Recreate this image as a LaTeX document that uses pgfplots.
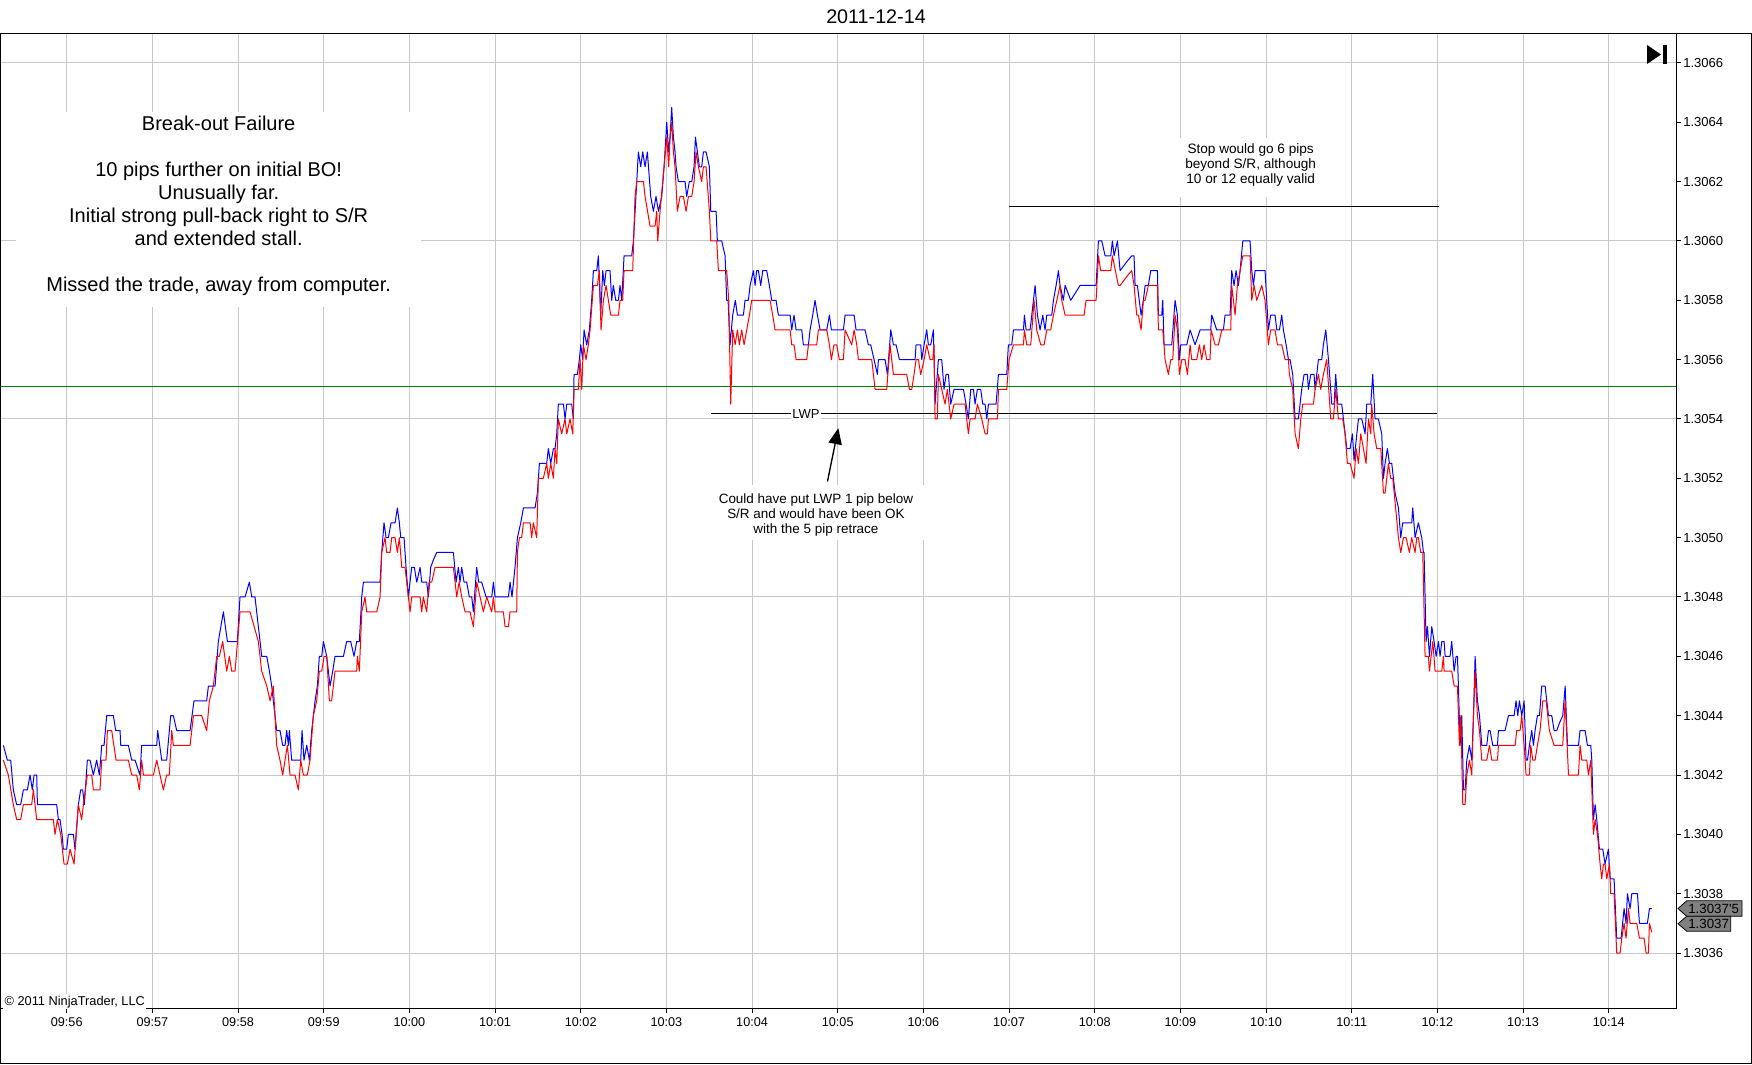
\documentclass[border=0pt]{standalone}
\usepackage{fontspec}
\setmainfont{Liberation Sans}
\usepackage{pgfplots}
\pgfplotsset{compat=1.18}
\usetikzlibrary{arrows.meta}
\definecolor{gridgray}{RGB}{200,200,200}
\definecolor{askblue}{RGB}{0,0,255}
\definecolor{bidred}{RGB}{255,0,0}
\definecolor{srgreen}{RGB}{0,128,0}
\definecolor{taggray}{RGB}{128,128,128}
\begin{document}
\begin{tikzpicture}
\useasboundingbox (0,-42pt) rectangle (1314pt,756pt);
\begin{axis}[
  at={(0,0)}, anchor=south west,
  scale only axis, width=1257pt, height=730.5pt,
  xmin=-0.7786, xmax=18.785, ymin=34.148, ymax=66.975,
  axis line style={line width=0.75pt},
  xtick={0,...,18},
  xticklabels={09:56,09:57,09:58,09:59,10:00,10:01,10:02,10:03,10:04,10:05,10:06,10:07,10:08,10:09,10:10,10:11,10:12,10:13,10:14},
  ytick={36,38,...,66},
  yticklabels={1.3036,1.3038,1.3040,1.3042,1.3044,1.3046,1.3048,1.3050,1.3052,1.3054,1.3056,1.3058,1.3060,1.3062,1.3064,1.3066},
  xtick pos=lower, ytick pos=right, yticklabel pos=right,
  tick align=outside, major tick length=3.75pt,
  tick style={black, line width=0.75pt},
  xmajorgrids=true,
  grid style={color=gridgray, line width=0.75pt},
  extra y ticks={36,42,48,54,60,66}, extra y tick labels={},
  extra y tick style={grid=major, major tick length=0pt},
  xticklabel style={inner sep=0pt, yshift=-3.5pt, font=\fontsize{9.5}{11}\selectfont},
  yticklabel style={inner sep=0pt, anchor=west, xshift=1.5pt, font=\fontsize{9.8}{11}\selectfont},
  /pgf/number format/assume math mode=true,
]
% annotation white boxes and texts
\fill[white] (axis cs:-0.592,57.77) rectangle (axis cs:4.136,64.35);
\node[align=center, font=\fontsize{15}{17.25}\selectfont, inner sep=0pt] at (axis cs:1.774,61.17)
 {Break-out Failure\\[17.25pt]10 pips further on initial BO!\\Unusually far.\\Initial strong pull-back right to S/R\\and extended stall.\\[17.25pt]Missed the trade, away from computer.};
\fill[white] (axis cs:13.0,61.48) rectangle (axis cs:14.607,63.47);
\node[align=center, font=\fontsize{10.2}{11}\selectfont, inner sep=0pt] at (axis cs:13.82,62.56)
 {Stop would go 6 pips\\beyond S/R, although\\10 or 12 equally valid};
\fill[white] (axis cs:7.451,49.92) rectangle (axis cs:10.135,51.775);
\node[align=center, font=\fontsize{10.1}{11.25}\selectfont, inner sep=0pt] at (axis cs:8.746,50.75)
 {Could have put LWP 1 pip below\\S/R and would have been OK\\with the 5 pip retrace};
% horizontal lines
\draw[srgreen, line width=0.75pt] (axis cs:-0.7786,55.08) -- (axis cs:18.785,55.08);
\draw[black, line width=0.75pt] (axis cs:11.0,61.17) -- (axis cs:16.02,61.17);
\draw[black, line width=0.75pt] (axis cs:7.52,54.18) -- (axis cs:16.0,54.18);
\node[fill=white, inner sep=1.2pt, font=\fontsize{9.75}{11}\selectfont] at (axis cs:8.63,54.18) {LWP};
\draw[black, line width=1pt, -{Triangle[length=12pt,width=10pt]}] (axis cs:8.88,51.89) -- (axis cs:9.007,53.69);
% ask (blue)
\addplot[askblue, line width=0.75pt, line join=round, sharp plot] coordinates {
(-0.739,43) (-0.693,42.5) (-0.654,42.5) (-0.623,41.5) (-0.584,41) (-0.537,41) (-0.506,41.5) (-0.459,41.5) (-0.428,42) (-0.401,41.5) (-0.381,42) (-0.350,42) (-0.342,41) (-0.117,41) (-0.097,40.5) (-0.078,40.5) (-0.054,40) (-0.039,39.5) (0,39.5) (0.019,40) (0.078,40) (0.097,39.5) (0.136,41) (0.163,41.5) (0.187,41.5) (0.206,41) (0.241,42.5) (0.272,42.5) (0.311,42) (0.350,42.5) (0.381,42) (0.409,43) (0.436,43) (0.467,44) (0.545,44) (0.572,43.5) (0.623,43.5) (0.630,43) (0.720,43) (0.759,42.5) (0.798,42.5) (0.856,42) (0.875,43) (1.051,43) (1.062,43.5) (1.109,42.5) (1.167,42.5) (1.214,44) (1.245,44) (1.284,43.5) (1.440,43.5) (1.486,44.5) (1.634,44.5) (1.654,45) (1.732,45) (1.770,46.5) (1.829,47.5) (1.852,47) (1.876,46.5) (1.992,46.5) (2.023,48) (2.082,48) (2.132,48.5) (2.160,48) (2.198,48) (2.257,46.5) (2.276,46) (2.335,46) (2.366,45.5) (2.393,45) (2.412,44.5) (2.451,43.5)
(2.490,43.5) (2.521,43) (2.549,43) (2.568,43.5) (2.588,43) (2.599,43.5) (2.626,42.5) (2.732,42.5) (2.747,43.5) (2.770,42.5) (2.802,43) (2.833,42.5) (2.860,43.5) (2.899,44.5) (2.926,45) (2.949,46) (2.977,46) (2.996,46.5) (3.035,46) (3.074,45) (3.105,45.5) (3.132,46) (3.230,46) (3.268,46.5) (3.315,46.5) (3.354,46) (3.385,46.5) (3.416,46.5) (3.444,48) (3.463,48.5) (3.658,48.5) (3.677,49.5) (3.704,50.5) (3.728,50) (3.755,50) (3.786,50.5) (3.833,50.5) (3.860,51) (3.883,50.5) (3.899,50) (3.938,50) (3.961,49) (3.988,48) (4.027,49) (4.058,49) (4.086,48.5) (4.125,49) (4.144,48.5) (4.202,48.5) (4.222,48) (4.249,49) (4.280,49.25) (4.319,49.5) (4.514,49.5) (4.545,48.5) (4.572,49) (4.591,48.5) (4.611,49) (4.638,48.5) (4.669,48.5) (4.700,48) (4.728,48) (4.747,47.5) (4.786,49) (4.809,48.5) (4.844,48.5) (4.895,48) (4.961,48) (4.981,48.5) (5.000,48) (5.156,48) (5.175,48.5) (5.198,48) (5.233,49) (5.261,50) (5.300,50.5) (5.331,51) (5.467,51) (5.494,51.5) (5.518,52.5) (5.603,52.5) (5.622,53) (5.650,52.5) (5.681,53) (5.700,53) (5.720,53.5) (5.739,54.5) (5.798,54.5) (5.817,54) (5.837,54.5) (5.895,54.5) (5.914,54)
(5.922,55.5) (5.961,55.5) (5.984,56) (6.000,56.5) (6.023,56) (6.039,57) (6.070,56.5) (6.101,57) (6.128,58) (6.148,59) (6.187,59) (6.206,59.5) (6.233,57.5) (6.257,59) (6.276,58.5) (6.296,59) (6.342,59) (6.362,58) (6.381,58.5) (6.409,58) (6.440,58) (6.459,58.5) (6.479,58) (6.506,59.5) (6.595,59.5) (6.615,60) (6.654,62) (6.673,63) (6.700,62.5) (6.724,63) (6.751,62.5) (6.778,63) (6.817,61.5) (6.848,61) (6.879,61.5) (6.907,61) (6.946,61.5) (6.973,62.5) (7.004,64) (7.027,63) (7.043,63.5) (7.062,64.5) (7.082,63.5) (7.101,63) (7.113,62.5) (7.140,62) (7.218,62) (7.237,61.5) (7.268,62) (7.296,62) (7.323,62.5) (7.339,63.5) (7.362,63) (7.385,62.5) (7.412,62.5) (7.432,63) (7.463,63) (7.502,62.5) (7.518,61) (7.580,61) (7.595,60) (7.646,60) (7.685,59.5) (7.704,58) (7.720,58) (7.743,56.5) (7.774,57.5) (7.805,58) (7.829,57.5) (7.899,57.5) (7.918,58) (7.957,58) (7.977,58.5) (8.016,59) (8.035,58.5) (8.054,59) (8.074,59) (8.101,58.5) (8.125,59) (8.171,59) (8.202,58.5) (8.230,58) (8.280,58) (8.307,57.5) (8.444,57.5) (8.463,57) (8.490,57.5) (8.514,57) (8.580,57) (8.599,56.5) (8.658,56.5) (8.677,57) (8.708,57.5) (8.735,58) (8.763,57.5) (8.794,57) (8.872,57) (8.903,57.5) (8.926,57) (9.066,57) (9.086,57.5) (9.191,57.5) (9.214,57) (9.319,57) (9.358,56.5)
(9.385,56.5) (9.424,56) (9.463,55.5) (9.475,56) (9.553,56) (9.580,55.5) (9.619,57) (9.650,56.5) (9.681,56.5) (9.720,56) (9.903,56) (9.914,56.5) (9.969,56.5) (9.981,56) (10.008,56.5) (10.039,57) (10.058,56.5) (10.086,56.5) (10.117,57) (10.136,54.5) (10.175,56) (10.214,56) (10.241,55) (10.265,55.5) (10.292,55.5) (10.319,54.5) (10.358,55) (10.467,55) (10.498,54.5) (10.525,54) (10.553,55) (10.584,55) (10.603,54.5) (10.630,55) (10.669,55) (10.693,54.5) (10.720,54.5) (10.740,54) (10.759,54.5) (10.848,54.5) (10.876,55.5) (10.973,55.5) (10.992,56.5) (11.031,56.5) (11.051,57) (11.168,57) (11.179,57.5) (11.199,57) (11.245,57) (11.265,57.5) (11.304,58.5) (11.331,57.5) (11.362,57) (11.393,57.5) (11.420,57) (11.440,57.5) (11.498,57.5) (11.518,58) (11.549,58.5) (11.576,59) (11.595,58.5) (11.634,58) (11.654,58.5) (11.720,58) (11.829,58.5) (12.016,58.5) (12.043,60) (12.082,60) (12.121,59.5) (12.187,59.5) (12.206,60) (12.226,59.5) (12.265,60) (12.296,59) (12.374,59.3) (12.432,59.5) (12.459,59.5) (12.471,58.5) (12.498,58.5) (12.541,57.5) (12.568,58) (12.588,58.5) (12.626,58.5)
(12.654,59) (12.732,59) (12.743,57.5) (12.782,57.5) (12.794,58) (12.809,56.5) (12.899,56.5) (12.938,58) (12.965,57.5) (12.988,56) (13.004,56.5) (13.074,56.5) (13.113,57) (13.171,56.5) (13.230,57) (13.354,57) (13.366,57.5) (13.424,57) (13.502,57) (13.521,57.5) (13.580,57.5) (13.599,59) (13.626,58.5) (13.650,59) (13.677,58.5) (13.697,59) (13.728,60) (13.813,60) (13.833,59) (13.852,58.5) (13.872,59) (13.988,59) (14.027,57) (14.054,57.5) (14.105,57.5) (14.125,57) (14.156,57) (14.183,57.5) (14.202,57) (14.234,56.5) (14.261,56) (14.280,56) (14.311,55.5) (14.339,54) (14.377,54) (14.416,55) (14.444,55.5) (14.482,55.5) (14.494,55) (14.521,55.5) (14.560,55.5) (14.572,55) (14.611,56) (14.650,56) (14.669,56.5) (14.697,57) (14.728,56) (14.767,54.5) (14.794,54.5) (14.813,55.5) (14.837,54.5) (14.883,54.5) (14.903,54) (14.942,53) (14.981,53) (15.008,53.5) (15.027,52.6) (15.078,54) (15.117,54) (15.156,53.5) (15.175,54.5) (15.222,54.5) (15.245,55.5) (15.272,54) (15.311,54) (15.350,53.5) (15.370,52) (15.389,52.5) (15.416,53) (15.440,52.5) (15.467,52.5) (15.506,51.5) (15.545,51) (15.572,50) (15.595,50.5) (15.700,50.5) (15.712,51) (15.739,50) (15.778,50.5) (15.817,50) (15.837,49.5) (15.844,49.5)
(15.868,46.5) (15.884,47) (15.907,46) (15.934,47) (15.961,46.5) (15.985,46) (16.012,46.5) (16.031,46) (16.051,46.5) (16.078,46.5) (16.090,46) (16.148,46) (16.167,46.5) (16.195,45.5) (16.218,46) (16.234,46) (16.245,45) (16.265,43) (16.284,44) (16.304,41.5) (16.323,41.5) (16.343,42.5) (16.374,43) (16.401,42.5) (16.421,44) (16.440,46) (16.467,44.5) (16.491,44) (16.518,43) (16.576,43) (16.596,43.5) (16.615,43.5) (16.646,43) (16.701,43) (16.712,43.5) (16.790,43.5) (16.829,44) (16.895,44) (16.918,44.5) (16.938,44) (16.957,44.5) (16.985,44) (17.012,44.5) (17.035,42.5) (17.051,42.5) (17.074,43) (17.101,43.5) (17.121,43) (17.140,43.5) (17.167,44) (17.191,44) (17.218,45) (17.257,45) (17.296,44) (17.335,44) (17.362,43.5) (17.393,43.5) (17.424,43.75) (17.463,44) (17.491,45) (17.518,43) (17.646,43) (17.665,43.5) (17.724,43.5) (17.751,43) (17.790,43) (17.802,42.5) (17.821,40.5) (17.841,41) (17.860,40.5) (17.891,39.5) (17.930,39.5) (17.957,39) (17.996,39.5) (18.016,38.5) (18.062,38.5) (18.093,36.5) (18.144,36.5) (18.179,37.5) (18.202,37) (18.218,38) (18.249,37.5) (18.269,38) (18.335,38) (18.358,37) (18.451,37) (18.475,37.5) (18.502,37.5)
};
% bid (red)
\addplot[bidred, line width=0.75pt, line join=round, sharp plot] coordinates {
(-0.739,42.5) (-0.681,42) (-0.623,41) (-0.584,40.5) (-0.537,40.5) (-0.506,41) (-0.409,41) (-0.389,41.5) (-0.350,40.5) (-0.156,40.5) (-0.136,40) (-0.109,40.5) (-0.070,40) (-0.031,39) (0.008,39) (0.039,39.5) (0.086,39) (0.136,41) (0.175,40.5) (0.195,41) (0.241,42) (0.292,42) (0.311,41.5) (0.389,41.5) (0.409,42.5) (0.459,42.5) (0.475,43.5) (0.525,43.5) (0.576,42.5) (0.720,42.5) (0.759,42) (0.817,42) (0.848,41.5) (0.875,42.5) (0.895,42) (1.012,42) (1.051,42.5) (1.089,42) (1.128,41.5) (1.167,42) (1.198,42) (1.226,43.5) (1.245,43) (1.440,43) (1.479,44) (1.576,44) (1.634,43.5) (1.665,44.5) (1.712,45) (1.751,46) (1.782,46) (1.821,46.5) (1.868,45.5) (1.899,46) (1.926,45.5) (1.965,45.5) (2.023,47.5) (2.140,47.5) (2.237,46.5) (2.276,45.5) (2.335,45) (2.374,44.5) (2.412,45) (2.451,43)
(2.490,42.5) (2.521,42) (2.549,42.5) (2.576,43) (2.607,42) (2.665,42) (2.704,41.5) (2.732,42.5) (2.763,42) (2.809,42) (2.840,42.5) (2.879,44) (2.918,44.5) (2.949,45.5) (2.977,45.5) (3.004,46) (3.035,46) (3.066,44.5) (3.093,44.5) (3.132,45.5) (3.385,45.5) (3.393,46) (3.416,45.5) (3.444,47.5) (3.482,48) (3.502,47.5) (3.619,47.5) (3.658,48) (3.677,49.5) (3.716,50) (3.735,49.5) (3.774,49.5) (3.794,50) (3.833,50) (3.860,49.5) (3.883,50) (3.911,49) (3.949,49) (4.008,47.5) (4.027,48) (4.125,48) (4.144,47.5) (4.163,48) (4.202,47.5) (4.230,48.5) (4.261,48.5) (4.300,49) (4.514,49) (4.553,48) (4.580,48.5) (4.611,48) (4.650,47.5) (4.708,47.5) (4.747,47) (4.786,48.5) (4.825,48) (4.864,47.5) (4.903,48) (4.961,47.5) (4.981,48) (5.000,47.5) (5.097,47.5) (5.117,47) (5.156,47) (5.175,47.5) (5.253,47.5) (5.261,49.5) (5.284,50) (5.311,50) (5.331,50.5) (5.409,50.5) (5.428,50) (5.447,50.5) (5.486,50) (5.506,52) (5.564,52) (5.603,52.5) (5.622,52) (5.650,52.5) (5.681,52) (5.700,53) (5.720,52.5) (5.739,54) (5.778,53.5) (5.817,54) (5.837,53.5) (5.875,54) (5.907,53.5)
(5.922,55) (5.973,55) (5.992,56) (6.012,55) (6.031,56.5) (6.062,56) (6.089,56.5) (6.109,57) (6.148,58.5) (6.195,58.5) (6.218,59) (6.237,57) (6.265,58) (6.296,58.5) (6.323,58) (6.350,57.5) (6.440,57.5) (6.459,58) (6.490,58) (6.506,59) (6.607,59) (6.634,61.5) (6.654,62) (6.732,62) (6.751,61.5) (6.809,60.5) (6.868,60.5) (6.887,61) (6.899,60) (6.926,61) (6.957,62) (7.004,63.5) (7.027,62.5) (7.043,63.5) (7.062,64) (7.082,63) (7.101,62.5) (7.128,61) (7.160,61.5) (7.198,61.5) (7.230,61) (7.257,61.5) (7.296,61.5) (7.323,62) (7.346,63) (7.374,62.5) (7.412,62) (7.432,62.5) (7.463,62.5) (7.502,61) (7.518,60) (7.588,60) (7.607,59) (7.704,59) (7.728,58) (7.751,54.5) (7.774,57) (7.802,56.5) (7.829,57) (7.852,56.5) (7.879,57) (7.907,56.5) (7.938,57) (7.969,57.5) (7.996,58) (8.210,58) (8.241,57.5) (8.268,57) (8.444,57) (8.463,56.5) (8.490,56.5) (8.514,56) (8.638,56) (8.658,56.5) (8.755,56.5) (8.774,57) (8.872,57) (8.903,56.5) (8.926,56) (8.957,56.5) (8.988,56.5) (9.019,56) (9.066,56) (9.086,57) (9.163,56.5) (9.191,57) (9.222,56.5) (9.241,56) (9.377,56)
(9.397,56) (9.436,55) (9.572,55) (9.611,56.5) (9.630,56) (9.650,55.5) (9.805,55.5) (9.837,55) (9.864,55) (9.891,55.5) (9.914,56) (9.942,56) (9.969,55.5) (10.008,56) (10.039,56.5) (10.078,56) (10.109,56) (10.125,56.5) (10.136,54) (10.163,54) (10.175,55.5) (10.214,55) (10.253,54.5) (10.280,55) (10.319,54) (10.358,54.5) (10.486,54.5) (10.525,53.5) (10.545,54) (10.603,54) (10.630,54.5) (10.681,54) (10.720,53.5) (10.747,53.5) (10.759,54) (10.864,54) (10.876,55) (10.973,55) (11.000,56) (11.051,56.5) (11.168,56.5) (11.179,57) (11.206,56.5) (11.253,56.5) (11.292,58) (11.323,57) (11.370,56.5) (11.409,56.5) (11.440,57) (11.486,57) (11.518,57.5) (11.557,58) (11.595,58.5) (11.615,58) (11.654,57.5) (11.876,57.5) (11.899,58) (12.016,58) (12.043,59.5) (12.070,59) (12.187,59) (12.206,59.5) (12.276,58.5) (12.296,58.5) (12.374,58.8) (12.432,59) (12.459,58.5) (12.490,57.5) (12.510,57.5) (12.541,57) (12.568,58) (12.588,58) (12.626,58.5)
(12.646,58.5) (12.732,58.5) (12.743,57) (12.794,57) (12.809,56.5) (12.821,56) (12.860,55.5) (12.887,56) (12.911,56) (12.938,57.5) (12.965,57) (12.988,55.5) (13.016,56) (13.054,56) (13.082,55.5) (13.113,56.5) (13.132,56) (13.191,56) (13.222,56.5) (13.249,56) (13.276,56.5) (13.307,56) (13.346,56) (13.358,57) (13.405,56.5) (13.444,56.5) (13.483,57) (13.588,57) (13.599,58.5) (13.638,57.5) (13.665,58.5) (13.697,59) (13.728,59.5) (13.813,59.5) (13.833,58) (13.860,58.5) (13.891,58) (13.950,58.5) (13.988,58) (14.027,56.5) (14.054,57) (14.105,57) (14.132,56.5) (14.183,56.5) (14.222,56) (14.261,56) (14.272,55.5) (14.311,55) (14.339,53.5) (14.377,53) (14.405,54) (14.428,54.5) (14.553,54.5) (14.572,55) (14.611,55.5) (14.638,55) (14.669,55.5) (14.708,56) (14.755,54) (14.786,54) (14.813,55) (14.844,54) (14.895,54) (14.922,53.5) (14.949,52.5) (14.981,52.5) (15.027,52) (15.051,53) (15.078,52.5) (15.105,53.5) (15.136,53) (15.167,52.5) (15.195,54) (15.222,53.5) (15.233,54.5) (15.261,53.5) (15.292,53) (15.339,53) (15.370,51.5) (15.389,51.5) (15.428,52.5) (15.455,52) (15.479,52) (15.545,50) (15.572,49.5) (15.603,50) (15.634,50) (15.673,49.5) (15.700,50) (15.739,49.5) (15.759,50) (15.778,50) (15.805,49.5) (15.829,49.5) (15.856,46)
(15.868,46) (15.895,46) (15.907,45.5) (15.946,46.5) (15.973,45.5) (16.051,45.5) (16.070,46) (16.078,45.5) (16.167,45.5) (16.195,45) (16.234,45) (16.257,43) (16.273,44) (16.296,41) (16.323,41) (16.343,42) (16.374,42.5) (16.401,42) (16.421,44) (16.440,45.5) (16.467,44) (16.491,43.5) (16.518,42.5) (16.576,42.5) (16.607,43) (16.635,42.5) (16.701,42.5) (16.712,43) (16.907,43) (16.926,43.5) (16.965,43.5) (16.985,44) (17.012,43) (17.035,42) (17.074,42) (17.090,43) (17.113,42.5) (17.140,42.5) (17.167,43) (17.198,43.5) (17.230,44.5) (17.269,44.5) (17.307,43.5) (17.362,43) (17.463,43) (17.491,44.5) (17.530,42) (17.646,42) (17.665,43) (17.685,42.5) (17.743,42.5) (17.763,42) (17.790,42.5) (17.821,40) (17.841,40.5) (17.868,40) (17.899,39) (17.918,38.5) (17.938,39) (17.957,39) (17.977,38.5) (18.008,39) (18.023,38) (18.062,38) (18.093,36) (18.132,36) (18.152,36.5) (18.179,37) (18.202,36.5) (18.230,37.5) (18.249,37) (18.327,37) (18.358,36.5) (18.412,36.5) (18.436,36) (18.463,36) (18.475,37) (18.502,36.7)
};
\end{axis}
% outer frame
\draw[line width=0.75pt] (0.375pt,-41.625pt) rectangle (1313.625pt,730.5pt);
% title
\node[font=\fontsize{14.8}{17}\selectfont] at (657pt,743.25pt) {2011-12-14};
% copyright
\node[anchor=base west, fill=white, inner sep=1pt, font=\fontsize{9.6}{11}\selectfont] at (2.25pt,2.25pt) {© 2011 NinjaTrader, LLC};
% go-to-end icon
\fill (1235.25pt,722.25pt) -- (1235.25pt,708pt) -- (1245.75pt,715.1pt) -- cycle;
\fill (1247.25pt,722.25pt) rectangle (1250.25pt,708pt);
% price tags
\draw[fill=taggray, line width=0.6pt] (1258.5pt,74.6pt) -- (1265pt,80.4pt) -- (1306.5pt,80.4pt) -- (1306.5pt,68.8pt) -- (1265pt,68.8pt) -- cycle;
\node[anchor=west, inner sep=0pt, font=\fontsize{10}{11}\selectfont] at (1266pt,74.6pt) {1.3037\textquotesingle 5};
\draw[fill=taggray, line width=0.6pt] (1258.5pt,63.2pt) -- (1265pt,68.8pt) -- (1298pt,68.8pt) -- (1298pt,57.6pt) -- (1265pt,57.6pt) -- cycle;
\node[anchor=west, inner sep=0pt, font=\fontsize{10}{11}\selectfont] at (1266pt,63.2pt) {1.3037};
\end{tikzpicture}
\end{document}
